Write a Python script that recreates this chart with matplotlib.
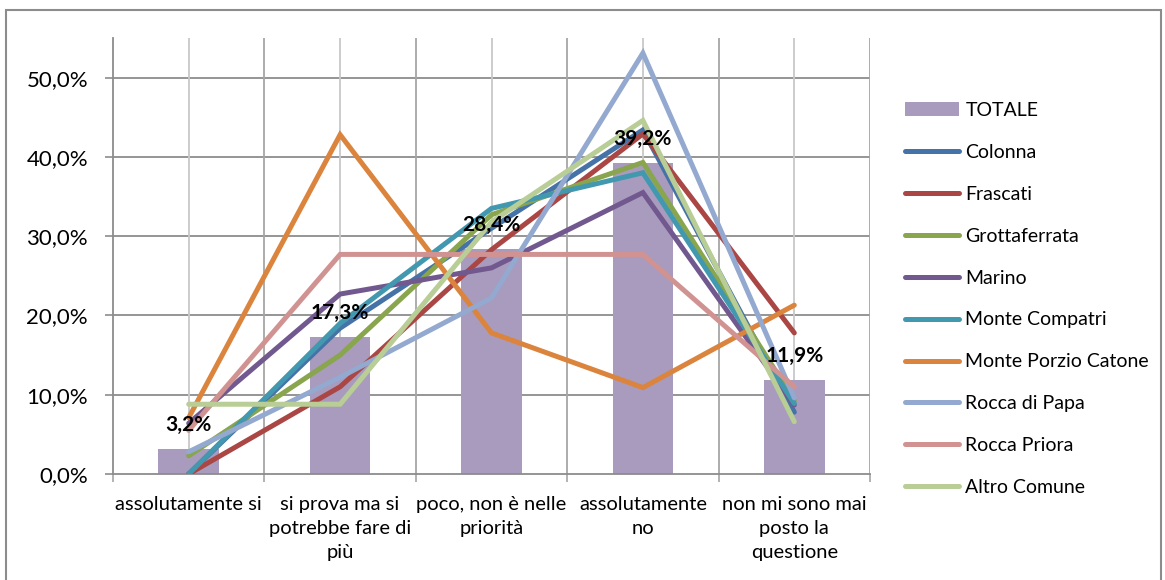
import numpy as np
import matplotlib
matplotlib.use('Agg')
import matplotlib.pyplot as plt
from matplotlib.patches import Rectangle
from matplotlib.ticker import FuncFormatter

plt.rcParams['font.family'] = ['Lato', 'DejaVu Sans']

categories = ['assolutamente si', 'si prova ma si\npotrebbe fare di\npiù',
              'poco, non è nelle\npriorità', 'assolutamente\nno',
              'non mi sono mai\nposto la\nquestione']

totale = [3.2, 17.3, 28.4, 39.2, 11.9]

comuni = ['Colonna', 'Frascati', 'Grottaferrata', 'Marino', 'Monte Compatri',
          'Monte Porzio Catone', 'Rocca di Papa', 'Rocca Priora', 'Altro Comune']
colonna = [0.0, 18.4, 31.0, 43.4, 7.8]
frascati = [0.0, 11.0, 28.3, 42.9, 17.8]
grottaferrata = [2.3, 15.0, 32.7, 39.3, 9.3]
marino = [6.4, 22.7, 26.0, 35.5, 8.7]
monte_compatri = [0.0, 19.0, 33.5, 38.0, 8.9]
monte_porzio = [7.1, 42.8, 17.8, 10.9, 21.3]
rocca_papa = [2.8, 12.2, 22.2, 53.1, 9.6]
rocca_priora = [5.5, 27.7, 27.7, 27.7, 11.0]
altro = [8.8, 8.8, 31.8, 44.6, 6.6]
series = [colonna, frascati, grottaferrata, marino, monte_compatri,
          monte_porzio, rocca_papa, rocca_priora, altro]
colors = ['#4572A7', '#AA4643', '#89A54E', '#71588F', '#4198AF',
          '#DB843D', '#93A9CF', '#D19392', '#B9CD96']

fig = plt.figure(figsize=(11.65, 5.80), dpi=100)
ax = fig.add_axes([113/1165, 1 - 474/580, (870 - 113)/1165, (474 - 38)/580])

x = np.arange(len(categories))
tot = np.array(totale) / 100
handles = [ax.bar(x, tot, width=0.4, color='#A99BBD', label='TOTALE', zorder=2)]
for vals, name, c in zip(series, comuni, colors):
    ln, = ax.plot(x, np.array(vals) / 100, color=c, lw=3.6, label=name,
                  solid_capstyle='round', solid_joinstyle='miter', zorder=3)
    handles.append(ln)

for xi, v in zip(x, tot):
    ax.annotate(f"{v*100:.1f}%".replace('.', ','), (xi, v), xytext=(0, 24),
                textcoords='offset pixels', ha='center', va='center',
                fontsize=15, fontweight='bold', zorder=5)

ax.set_xlim(-0.5, 4.5)
ax.set_ylim(0, 0.55)
ax.set_yticks(np.arange(0, 0.51, 0.1))
ax.yaxis.set_major_formatter(FuncFormatter(lambda v, p: f"{v*100:.1f}%".replace('.', ',')))
ax.tick_params(axis='y', length=6, width=1.2, color='#8C8C8C', pad=12, labelsize=16)
ax.set_xticks(np.arange(-0.5, 4.6, 1.0))
ax.set_xticklabels([])
ax.set_xticks(x, minor=True)
ax.set_xticklabels(categories, minor=True, fontsize=14.5, linespacing=1.5)
ax.tick_params(axis='x', which='major', length=6, width=1.2, color='#A6A6A6')
ax.tick_params(axis='x', which='minor', length=0, pad=16)

# gridlines
for yv in np.arange(0.1, 0.51, 0.1):
    ax.axhline(yv, color='#8C8C8C', lw=1.3, zorder=1)
for xv in np.arange(0.5, 4.6, 1.0):
    ax.axvline(xv, color='#A6A6A6', lw=1.3, zorder=1)
for xv in x:
    ax.axvline(xv, color='#C8C8C8', lw=1.3, zorder=1)

for s in ['top', 'right']:
    ax.spines[s].set_visible(False)
ax.spines['left'].set_color('#8C8C8C')
ax.spines['bottom'].set_color('#8C8C8C')
ax.spines['left'].set_linewidth(1.3)
ax.spines['bottom'].set_linewidth(1.3)

leg = ax.legend(handles=handles, loc='upper left',
                bbox_to_anchor=(905/1165, 1 - 102/580),
                bbox_transform=fig.transFigure, frameon=False, fontsize=14,
                handlelength=2.8, handletextpad=0.3, labelspacing=1.28,
                borderaxespad=0, borderpad=0)

fig.patches.append(Rectangle((6/1165, -0.05), (1161 - 6)/1165, 1.05 - 10/580,
                             transform=fig.transFigure, fill=False,
                             edgecolor='#8C8C8C', lw=1.5))

fig.savefig('out.png', dpi=100)
